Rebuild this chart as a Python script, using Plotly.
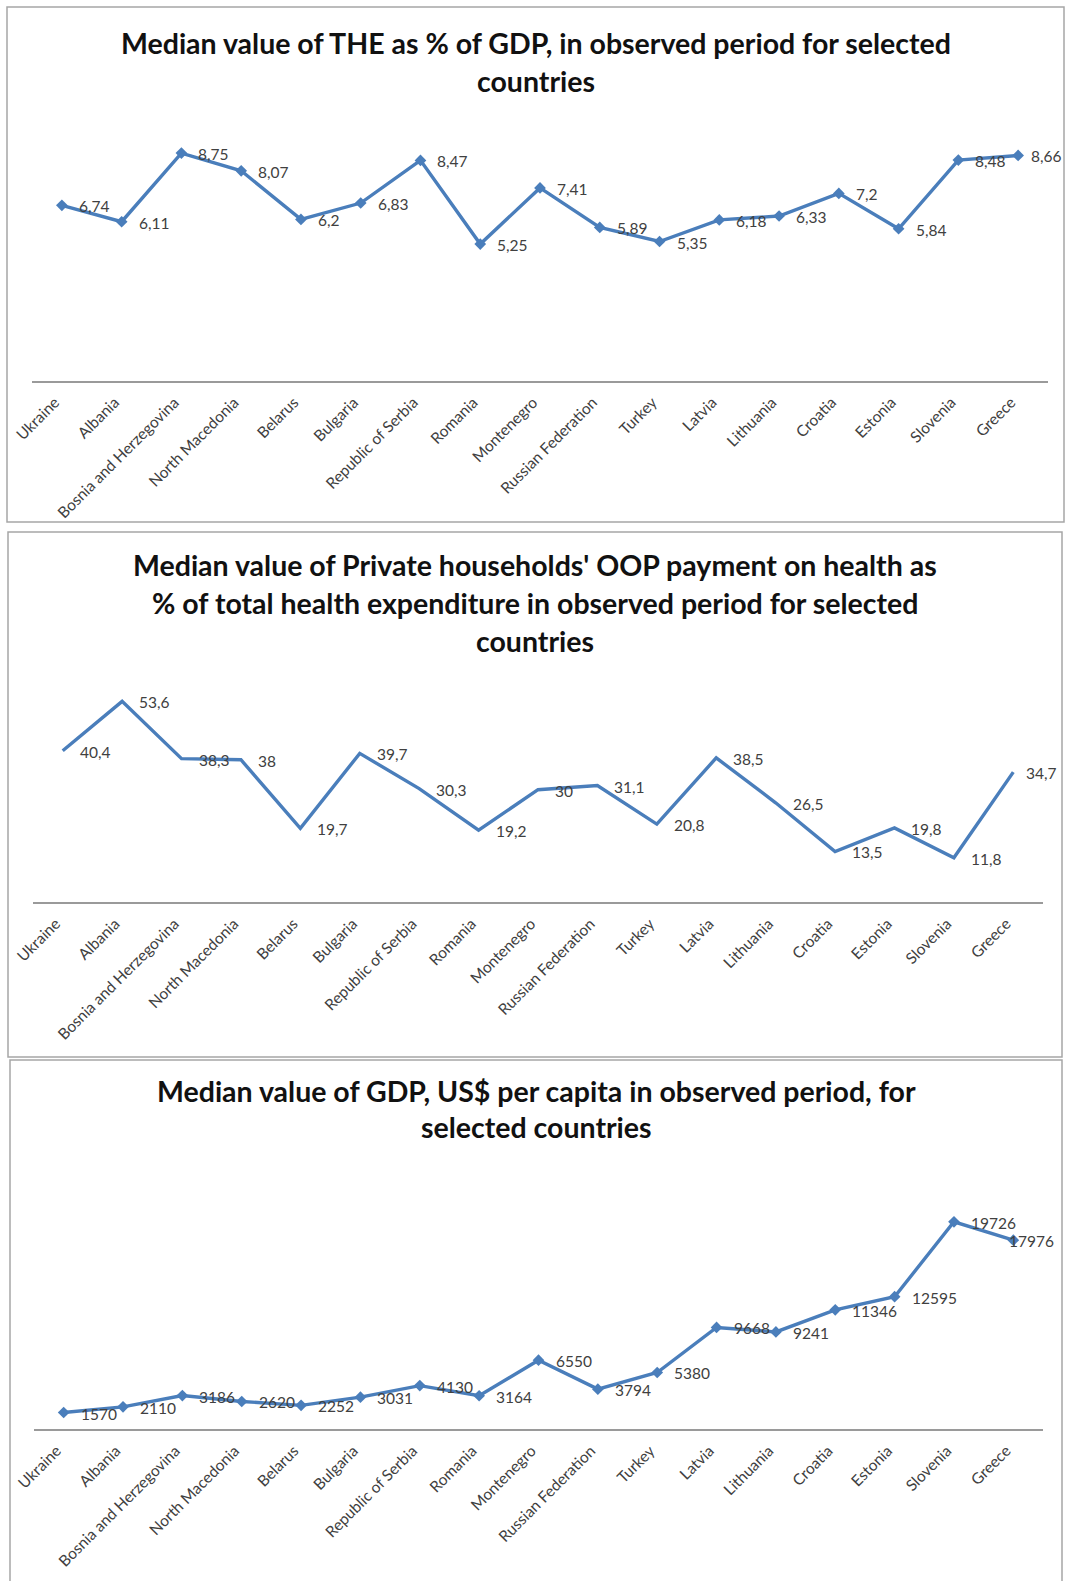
import plotly.graph_objects as go

countries = ["Ukraine", "Albania", "Bosnia and Herzegovina", "North Macedonia", "Belarus",
             "Bulgaria", "Republic of Serbia", "Romania", "Montenegro", "Russian Federation",
             "Turkey", "Latvia", "Lithuania", "Croatia", "Estonia", "Slovenia", "Greece"]

the_pct_gdp = [6.74, 6.11, 8.75, 8.07, 6.2, 6.83, 8.47, 5.25, 7.41, 5.89,
               5.35, 6.18, 6.33, 7.2, 5.84, 8.48, 8.66]

oop_pct_the = [40.4, 53.6, 38.3, 38, 19.7, 39.7, 30.3, 19.2, 30, 31.1,
               20.8, 38.5, 26.5, 13.5, 19.8, 11.8, 34.7]

gdp_per_capita = [1570, 2110, 3186, 2620, 2252, 3031, 4130, 3164, 6550, 3794,
                  5380, 9668, 9241, 11346, 12595, 19726, 17976]

titles = [
    ["Median value of THE as % of GDP, in observed period for selected", "countries"],
    ["Median value of Private households' OOP payment on health as",
     "% of total health expenditure in observed period for selected", "countries"],
    ["Median value of GDP, US$ per capita in observed period, for", "selected countries"],
]

W, H = 1065, 1581
FONT = "Lato, 'Open Sans', sans-serif"
BLUE = "#4A7EBB"
TXT = "#404040"


def px(x):
    return x / W


def py(y):
    return 1 - y / H


def fmt(v):
    if float(v) == int(v):
        return str(int(v))
    return str(v).replace(".", ",")


# panel geometry (pixels)
panels = [
    dict(box=(7, 7, 1064, 522), xdom=(32, 1048), ydom=(120.6, 380.6), yr=(0, 10),
         title_y=[43, 81], markers=True, last_shift=11),
    dict(box=(8, 532, 1062, 1057), xdom=(33, 1043), ydom=(677.4, 902), yr=(0, 60),
         title_y=[565, 603, 641], markers=False, last_shift=11),
    dict(box=(10, 1060, 1062, 1590), xdom=(34, 1043), ydom=(1166.4, 1429), yr=(0, 25000),
         title_y=[1091, 1127], markers=True, last_shift=-6),
]
series = [the_pct_gdp, oop_pct_the, gdp_per_capita]

fig = go.Figure()
shapes = []
annotations = []

for i, (p, vals) in enumerate(zip(panels, series)):
    n = "" if i == 0 else str(i + 1)
    xa, ya = "x" + n, "y" + n
    fig.add_trace(go.Scatter(
        x=countries, y=vals, xaxis=xa, yaxis=ya,
        mode="lines+markers" if p["markers"] else "lines",
        line=dict(color=BLUE, width=3.4),
        marker=dict(symbol="diamond", size=9, color=BLUE),
        showlegend=False, hoverinfo="skip",
    ))
    for j, (c, v) in enumerate(zip(countries, vals)):
        shift = 15 if j < len(countries) - 1 else p["last_shift"]
        annotations.append(dict(
            x=c, y=v, xref=xa, yref=ya, text=fmt(v), showarrow=False,
            xanchor="left", yanchor="middle", xshift=shift, yshift=-1,
            font=dict(family=FONT, size=15.5, color=TXT),
        ))
    for k, (line, ty) in enumerate(zip(titles[i], p["title_y"])):
        annotations.append(dict(
            x=px((p["box"][0] + p["box"][2]) / 2), y=py(ty), xref="paper", yref="paper",
            text="<b>" + line + "</b>", showarrow=False, xanchor="center", yanchor="middle",
            font=dict(family=FONT, size=28.5, color="#111111"),
        ))
    x0, y0, x1, y1 = p["box"]
    shapes.append(dict(type="rect", xref="paper", yref="paper",
                       x0=px(x0), x1=px(x1), y0=py(y1), y1=py(y0),
                       line=dict(color="#a6a6a6", width=1.5), fillcolor="rgba(0,0,0,0)"))
    fig.layout["xaxis" + n] = dict(
        domain=[px(p["xdom"][0]), px(p["xdom"][1])], anchor=ya,
        type="category", range=[-0.5, len(countries) - 0.5],
        showgrid=False, zeroline=False, showline=True, linecolor="#9a9a9a", linewidth=1.5,
        ticks="", tickangle=-45, ticklabelstandoff=5, ticklabelshift=-7,
        tickfont=dict(family=FONT, size=15.5, color=TXT),
        automargin=False, fixedrange=True,
    )
    fig.layout["yaxis" + n] = dict(
        domain=[py(p["ydom"][1]), py(p["ydom"][0])], anchor=xa,
        range=list(p["yr"]), showgrid=False, zeroline=False, showline=False,
        showticklabels=False, ticks="", automargin=False, fixedrange=True,
    )

fig.update_layout(
    width=W, height=H, autosize=False,
    margin=dict(l=0, r=0, t=0, b=0, autoexpand=False),
    paper_bgcolor="white", plot_bgcolor="rgba(0,0,0,0)",
    shapes=shapes, annotations=annotations,
    font=dict(family=FONT),
)

fig.write_html("out.html")
